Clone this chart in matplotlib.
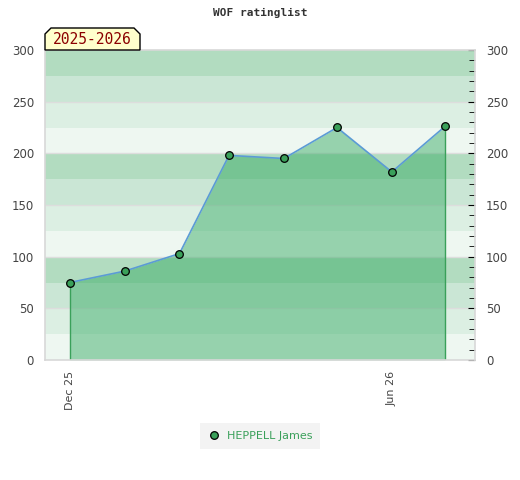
import pandas as pd
import matplotlib
matplotlib.use("Agg")
import matplotlib.pyplot as plt
import matplotlib.dates as mdates
from matplotlib.patches import Polygon
from matplotlib.ticker import MultipleLocator

# data
dates = pd.to_datetime(["2025-12-01", "2026-01-01", "2026-02-01", "2026-03-01",
                        "2026-04-01", "2026-05-01", "2026-06-01", "2026-07-01"])
ratings = [75, 86, 103, 198, 195, 225, 182, 226]
player = "HEPPELL James"
season = "2025-2026"
title = "WOF ratinglist"
tick_dates = pd.to_datetime(["2025-12-01", "2026-06-01"])

band_colors = ["#eef7f1", "#dcefe3", "#cae6d5", "#b2dcc0"]
green = "#3aa05a"

fig = plt.figure(figsize=(5.2, 4.8), dpi=100)
ax = fig.add_axes([45 / 520, 120 / 480, 430 / 520, 310 / 480])

# striped background
for i in range(12):
    ax.axhspan(i * 25, (i + 1) * 25, color=band_colors[i % 4], lw=0, zorder=0)
for y in range(50, 300, 50):
    ax.axhline(y, color="#dddddd", lw=1, zorder=0.5)

ax.fill_between(dates, ratings, 0, color="#33aa62", alpha=0.47, lw=0, zorder=1)
ax.vlines([dates[0], dates[-1]], 0, [ratings[0], ratings[-1]], color=green, lw=1, zorder=2)
ax.plot(dates, ratings, color="#5b9bd5", lw=1.2, zorder=3)
ax.plot(dates, ratings, ls="none", marker="o", ms=5.5, mfc=green, mec="black",
        mew=0.9, zorder=4, label=player)

ax.set_xlim(pd.Timestamp("2025-11-17"), pd.Timestamp("2026-07-18"))
ax.set_ylim(0, 300)
ax.set_xticks(tick_dates)
ax.xaxis.set_major_formatter(mdates.DateFormatter("%b %y"))
ax.tick_params(axis="x", length=0, labelsize=8, labelcolor="#444444",
               labelrotation=90, pad=8)

ax.yaxis.set_major_locator(MultipleLocator(50))
ax.yaxis.set_minor_locator(MultipleLocator(10))
ax.tick_params(axis="y", which="both", left=False, right=True, labelleft=True,
               labelright=True, direction="in", labelsize=8.5, labelcolor="#444444")
ax.tick_params(axis="y", which="major", length=5, pad=6)
ax.tick_params(axis="y", which="minor", length=4)
ax.tick_params(axis="y", which="major", left=False, pad=8)

for s in ax.spines.values():
    s.set_color("#d8d8d8")
    s.set_linewidth(1.2)

fig.text(0.5, 1 - 13 / 480, title, ha="center", va="center",
         family="DejaVu Sans Mono", weight="bold", fontsize=8, color="#333333")

# season label with chamfered top corners
pts = [(45, 50), (45, 34), (51, 28), (134, 28), (140, 34), (140, 50)]
poly = Polygon([(x / 520, 1 - y / 480) for x, y in pts], closed=True,
               transform=fig.transFigure, facecolor="#ffffcc", edgecolor="black",
               lw=1, zorder=10)
fig.patches.append(poly)
fig.text(92 / 520, 1 - 40 / 480, season, ha="center", va="center",
         family="DejaVu Sans Mono", fontsize=10.5, color="#8b0000", zorder=11)

leg = fig.legend(loc="center", bbox_to_anchor=(0.5, 1 - 436 / 480), frameon=True,
                 fontsize=8, handletextpad=0.5, handlelength=1.2, borderpad=0.5)
leg.get_frame().set_facecolor("#f0f0f0")
leg.get_frame().set_edgecolor("none")
leg.get_frame().set_boxstyle("square", pad=0.2)
for t in leg.get_texts():
    t.set_color(green)

fig.savefig("out.png", dpi=100)
